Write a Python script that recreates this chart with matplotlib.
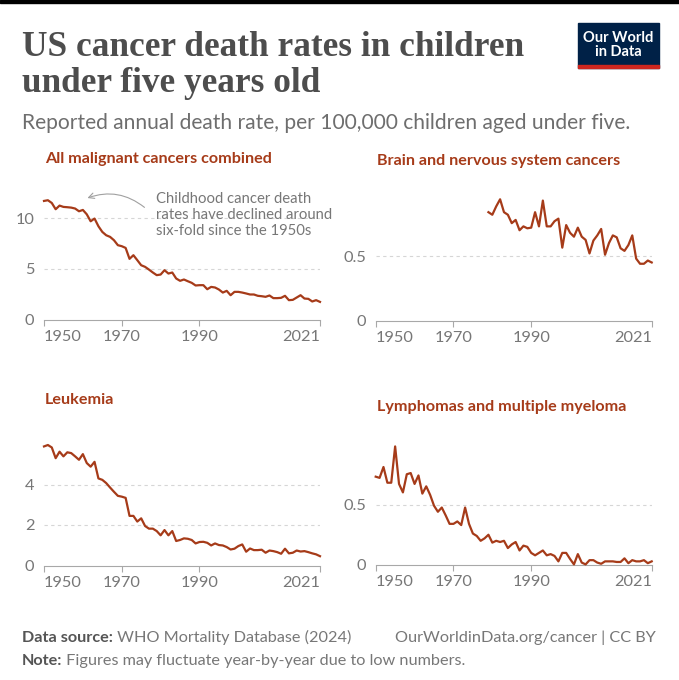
import matplotlib.pyplot as plt
from matplotlib.patches import Rectangle

W, H = 679, 680

years = list(range(1950, 2022))
brain_years = list(range(1979, 2022))

# deaths per 100,000 children under five
all_cancers = [11.71, 11.78, 11.51, 10.89, 11.25, 11.12, 11.09, 11.05, 10.96, 10.69,
               10.82, 10.39, 9.70, 9.97, 9.21, 8.65, 8.32, 8.16, 7.83, 7.34,
               7.24, 7.07, 5.99, 6.35, 5.86, 5.36, 5.20, 4.93, 4.64, 4.38,
               4.44, 4.87, 4.54, 4.64, 4.05, 3.82, 3.95, 3.78, 3.62, 3.36,
               3.39, 3.39, 2.99, 3.22, 3.16, 2.96, 2.66, 2.83, 2.40, 2.73,
               2.73, 2.66, 2.57, 2.47, 2.47, 2.34, 2.30, 2.24, 2.37, 2.11,
               2.11, 2.14, 2.34, 1.91, 1.94, 2.17, 2.40, 2.07, 2.04, 1.78,
               1.91, 1.74]
brain = [0.84, 0.82, 0.885, 0.94, 0.84, 0.82, 0.755, 0.78, 0.70, 0.73,
         0.715, 0.72, 0.84, 0.73, 0.93, 0.73, 0.73, 0.77, 0.79, 0.565,
         0.74, 0.68, 0.65, 0.72, 0.65, 0.625, 0.52, 0.62, 0.66, 0.71,
         0.51, 0.60, 0.66, 0.645, 0.56, 0.54, 0.585, 0.66, 0.48, 0.44,
         0.44, 0.465, 0.45]
leukemia = [5.88, 5.95, 5.83, 5.30, 5.62, 5.39, 5.59, 5.55, 5.39, 5.22,
            5.50, 5.06, 4.88, 5.12, 4.30, 4.23, 4.07, 3.85, 3.64, 3.44,
            3.40, 3.34, 2.45, 2.45, 2.17, 2.33, 1.95, 1.82, 1.82, 1.70,
            1.49, 1.75, 1.49, 1.70, 1.21, 1.26, 1.34, 1.32, 1.26, 1.09,
            1.16, 1.17, 1.12, 0.99, 1.09, 1.01, 0.99, 0.91, 0.79, 0.83,
            0.96, 1.04, 0.68, 0.84, 0.76, 0.76, 0.78, 0.63, 0.74, 0.71,
            0.66, 0.58, 0.83, 0.60, 0.63, 0.74, 0.69, 0.71, 0.66, 0.60,
            0.55, 0.46]
lymphoma = [0.73, 0.72, 0.81, 0.68, 0.68, 0.98, 0.67, 0.60, 0.75, 0.76,
            0.67, 0.74, 0.59, 0.65, 0.58, 0.49, 0.44, 0.475, 0.41, 0.34,
            0.34, 0.36, 0.33, 0.475, 0.34, 0.26, 0.24, 0.20, 0.22, 0.25,
            0.185, 0.20, 0.19, 0.20, 0.14, 0.17, 0.19, 0.12, 0.16, 0.15,
            0.10, 0.08, 0.10, 0.12, 0.08, 0.09, 0.075, 0.03, 0.10, 0.10,
            0.05, 0.005, 0.09, 0.02, 0.005, 0.04, 0.04, 0.02, 0.01, 0.03,
            0.03, 0.03, 0.025, 0.025, 0.055, 0.015, 0.04, 0.03, 0.03, 0.04,
            0.015, 0.03]

xticks = [1950, 1970, 1990, 2021]

RUST = '#a63b19'
GREY = '#777777'
DARK = '#555555'

plt.rcParams['font.family'] = ['Lato', 'DejaVu Sans']

fig = plt.figure(figsize=(W / 100, H / 100), dpi=100)


def px(x, y):
    # pixel position from top-left -> figure fraction
    return x / W, 1 - y / H


def panel(box, x, y, ymax, yticks, ylabels, title, title_base):
    left, top, right, bottom = box
    ax = fig.add_axes([left / W, 1 - bottom / H, (right - left) / W, (bottom - top) / H])
    ax.plot(x, y, color=RUST, lw=1.6, solid_joinstyle='round', clip_on=False, zorder=3)
    ax.set_xlim(1950, 2021)
    ax.set_ylim(0, ymax)
    for s in ['top', 'right', 'left']:
        ax.spines[s].set_visible(False)
    ax.spines['bottom'].set_color('#a8a8a8')
    ax.set_xticks(xticks)
    ax.set_xticklabels([str(t) for t in xticks])
    for lbl, ha in zip(ax.get_xticklabels(), ['left', 'center', 'center', 'right']):
        lbl.set_ha(ha)
    ax.tick_params(axis='x', length=4, color='#a8a8a8', labelsize=11.8, labelcolor=GREY, pad=3.5)
    ax.set_yticks(yticks)
    ax.set_yticklabels(ylabels)
    ax.tick_params(axis='y', length=0, labelsize=11.8, labelcolor=GREY, pad=7)
    for t in yticks[1:]:
        ax.axhline(t, color='#d6d6d6', lw=0.8, ls=(0, (3, 3)), zorder=0)
    fig.text(*px(left + 1, title_base), title, color=RUST, fontsize=11.6,
             fontweight='bold', va='baseline')
    return ax


ax1 = panel((44, 198, 320, 319.5), years, all_cancers, 12, [0, 5, 10], ['0', '5', '10'],
            'All malignant cancers combined', 163)
panel((375.7, 198, 651.7, 320.5), brain_years, brain, 0.95, [0, 0.5], ['0', '0.5'],
      'Brain and nervous system cancers', 165.5)
panel((44, 444, 320, 565.5), years, leukemia, 6.0, [0, 2, 4], ['0', '2', '4'],
      'Leukemia', 404)
panel((375.7, 444, 651.7, 565), years, lymphoma, 1.0, [0, 0.5], ['0', '0.5'],
      'Lymphomas and multiple myeloma', 410.5)

# annotation in the first panel
ax1.text(1978.7, 12.55, 'Childhood cancer death\nrates have declined around\nsix-fold since the 1950s',
         color=GREY, fontsize=10.7, va='top', ha='left', linespacing=1.17, clip_on=False)
ax1.annotate('', xy=(1960.5, 11.9), xytext=(1976.4, 10.9),
             arrowprops=dict(arrowstyle='->', color='#a0a0a0', lw=0.8,
                             connectionstyle='arc3,rad=0.3'), annotation_clip=False)

# header
fig.patches.append(Rectangle((0, 1 - 3.3 / H), 1, 3.3 / H, color='black',
                             transform=fig.transFigure, figure=fig))
fig.text(*px(22, 56), 'US cancer death rates in children', family='Liberation Serif',
         fontweight='bold', fontsize=25.4, color='#4d4d4d', va='baseline')
fig.text(*px(22, 92), 'under five years old', family='Liberation Serif',
         fontweight='bold', fontsize=25.4, color='#4d4d4d', va='baseline')
fig.text(*px(22, 129), 'Reported annual death rate, per 100,000 children aged under five.',
         fontsize=15.1, color='#6e6e6e', va='baseline')

# logo
lx0, ly0 = px(577.7, 68.3)
fig.patches.append(Rectangle((lx0, ly0), (659 - 577.7) / W, (68.3 - 23.3) / H,
                             color='#002147', transform=fig.transFigure, figure=fig))
fig.patches.append(Rectangle((lx0, ly0), (659 - 577.7) / W, 3.2 / H,
                             color='#ce261e', transform=fig.transFigure, figure=fig))
fig.text(*px(618.3, 44.5), 'Our World\nin Data', color='white', fontsize=10.5,
         fontweight='bold', ha='center', va='center', linespacing=1.0)

# footer
src = fig.text(*px(22, 641.7), 'Data source:', fontsize=11.7, fontweight='bold',
               color=DARK, va='baseline')
fig.text(*px(656, 641.7), 'OurWorldinData.org/cancer | CC BY', fontsize=11.7,
         color=GREY, va='baseline', ha='right')
note = fig.text(*px(22, 665), 'Note:', fontsize=11.7, fontweight='bold',
                color=DARK, va='baseline')
fig.canvas.draw()
r = fig.canvas.get_renderer()
for lab, rest, yb in [(src, ' WHO Mortality Database (2024)', 641.7),
                      (note, ' Figures may fluctuate year-by-year due to low numbers.', 665)]:
    bb = lab.get_window_extent(r)
    fig.text(bb.x1 / W, 1 - yb / H, rest, fontsize=11.7, color=GREY, va='baseline')

fig.savefig('out.png', dpi=100)
